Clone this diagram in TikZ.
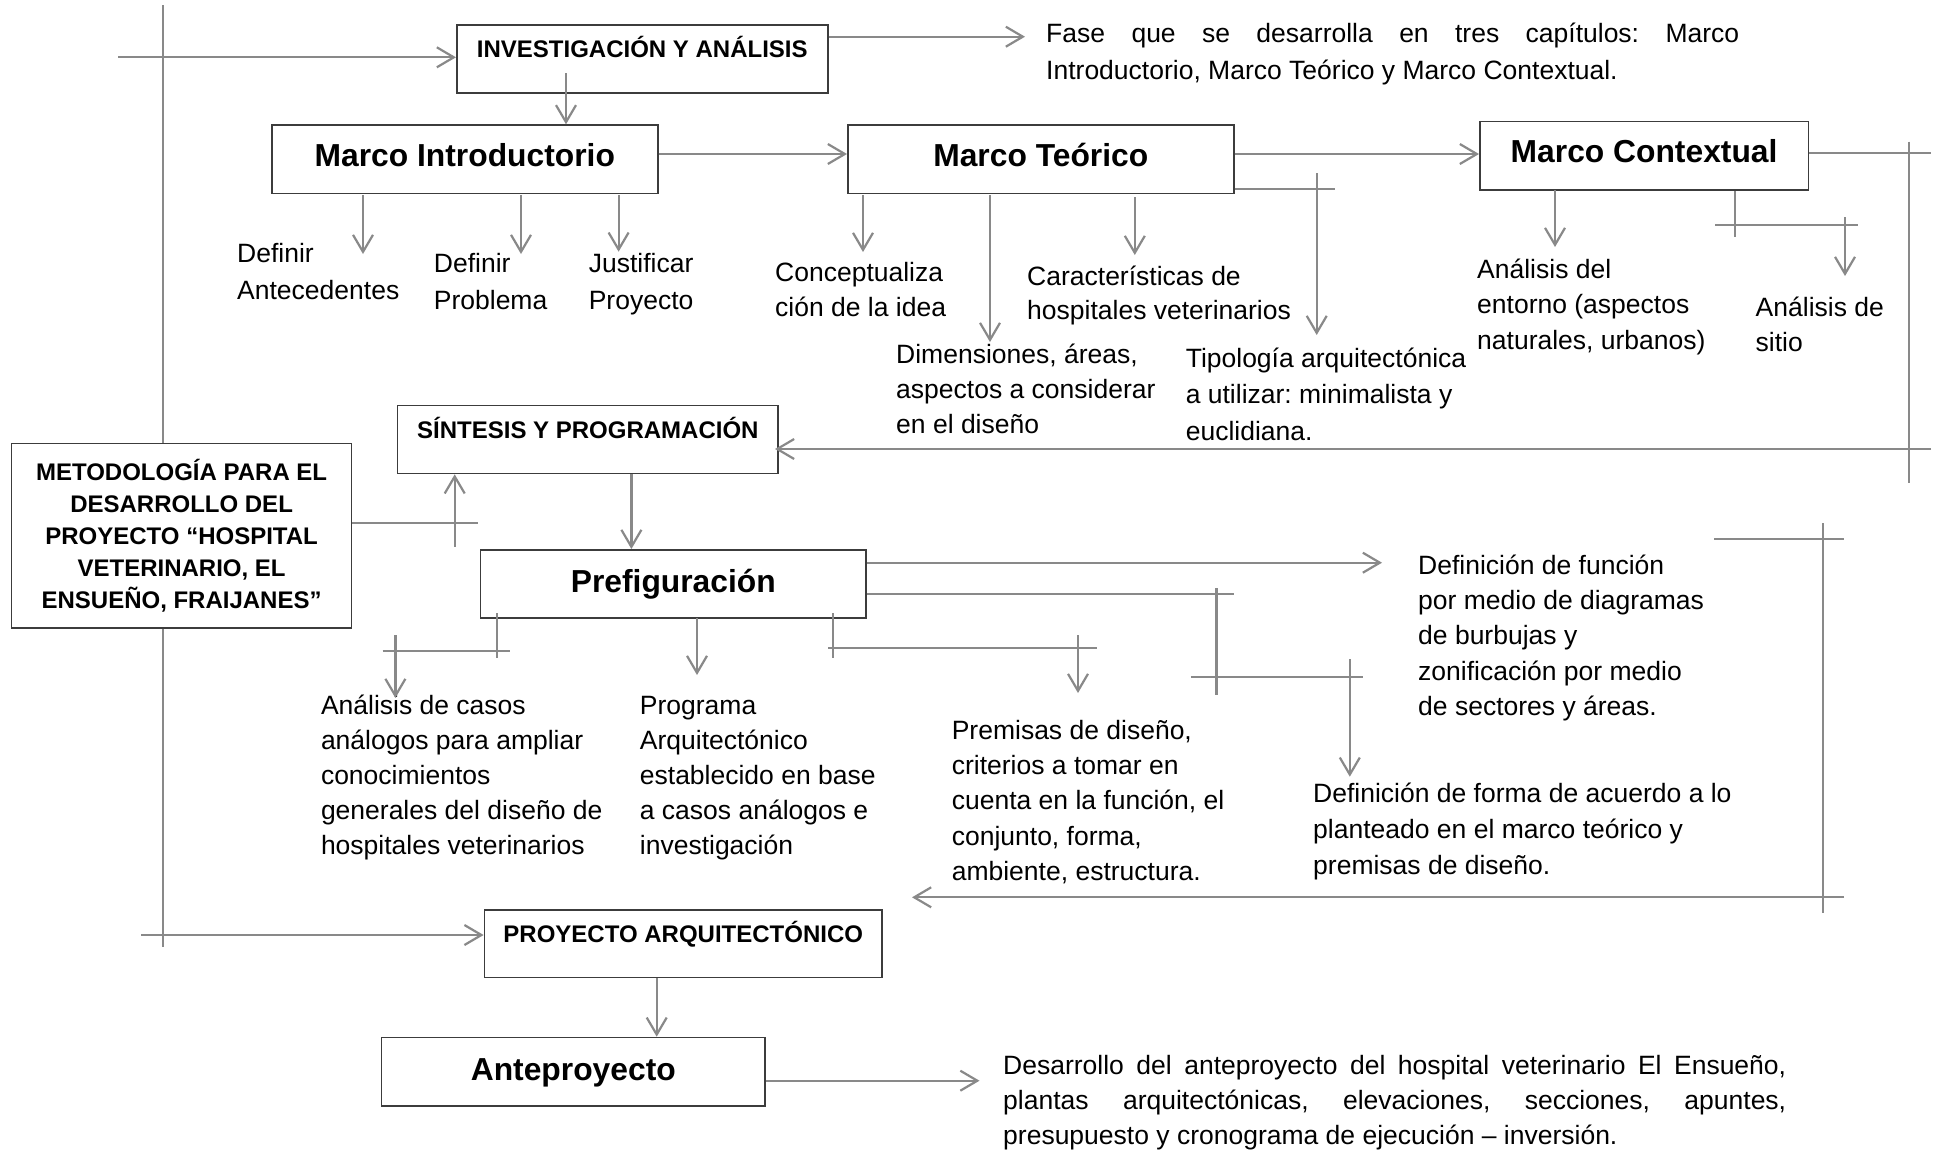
\documentclass[tikz,border=0pt]{standalone}
\usepackage{fontspec}
\setmainfont{Liberation Sans}
\usetikzlibrary{arrows.meta}
\definecolor{lc}{RGB}{137,137,137}
\definecolor{bc}{RGB}{60,60,60}
\newcommand{\bfs}[1]{\fontsize{26.5}{#1}\selectfont}
\frenchspacing
\tikzset{
  ln/.style={draw=lc, line width=2.2pt},
  arr/.style={ln, -{Straight Barb[length=17pt,width=20pt]}},
  txt/.style={anchor=north west, inner sep=0pt, align=left},
  boxbase/.style={draw=bc, line width=1.6pt, fill=white, inner sep=0pt, anchor=north west},
  capbox/.style={boxbase, font=\bfseries\fontsize{24}{28}\selectfont, text height=32.5pt, text depth=35.5pt},
  headbox/.style={boxbase, font=\bfseries\fontsize{31.8}{36}\selectfont, text height=41.5pt, text depth=27pt},
}
\begin{document}
\begin{tikzpicture}[x=1pt,y=-1pt]
\path[use as bounding box, fill=white] (0,0) rectangle (1934,1149);

% boxes
\node[capbox, minimum width=371pt] (inv) at (456,24.3) {INVESTIGACIÓN Y ANÁLISIS};
\node[headbox, minimum width=386pt] (mi) at (271,124.3) {Marco Introductorio};
\node[headbox, minimum width=386pt] (mt) at (847,124.3) {Marco Teórico};
\node[headbox, minimum width=328.6pt, text height=41pt, text depth=27.3pt] (mc) at (1479,120.7) {Marco Contextual};
\node[capbox, minimum width=380.7pt] (sin) at (396.7,404.7) {SÍNTESIS Y PROGRAMACIÓN};
\node[boxbase, minimum width=340pt, minimum height=184.6pt, align=center, font=\bfseries\fontsize{24}{32}\selectfont] (meto) at (10.8,442.7) {METODOLOGÍA PARA EL\\DESARROLLO DEL\\PROYECTO “HOSPITAL\\VETERINARIO, EL\\ENSUEÑO, FRAIJANES”};
\node[headbox, minimum width=385.8pt, text height=42.4pt, text depth=25.6pt] (pf) at (479.6,549) {Prefiguración};
\node[capbox, minimum width=397.7pt, text depth=35.2pt] (pa) at (483.6,909) {PROYECTO ARQUITECTÓNICO};
\node[headbox, minimum width=383.6pt, text height=43pt, text depth=25.3pt] (ap) at (380.7,1036.7) {Anteproyecto};

% texts
\node[txt, text width=693pt, align=justify, font={\bfs{36.7}\tolerance=10000 \hyphenpenalty=10000 }] (tfase) at (1046,16.6) {\strut Fase que se desarrolla en tres capítulos: Marco\linebreak Introductorio, Marco Teórico y Marco Contextual.};
\node[txt, font=\bfs{37}] (tdefant) at (237,235.9) {\strut Definir\\Antecedentes};
\node[txt, font=\bfs{37}] (tdefprob) at (433.7,246.1) {\strut Definir\\Problema};
\node[txt, font=\bfs{37}] (tjust) at (588.6,246.1) {\strut Justificar\\Proyecto};
\node[txt, font=\bfs{35}] (tcon) at (775,256.5) {\strut Conceptualiza\\ción de la idea};
\node[txt, font=\bfs{35.3}] (tdim) at (896,338.3) {\strut Dimensiones, áreas,\\aspectos a considerar\\en el diseño};
\node[txt, font=\bfs{34.5}] (tcar) at (1027,260.9) {\strut Características de\\hospitales veterinarios};
\node[txt, font=\bfs{36.5}] (ttipo) at (1185.6,341.5) {\strut Tipología arquitectónica\\a utilizar: minimalista y\\euclidiana.};
\node[txt, font=\bfs{35.5}] (tent) at (1477,253.2) {\strut Análisis del\\entorno (aspectos\\naturales, urbanos)};
\node[txt, font=\bfs{35}] (tsit) at (1755.5,291.5) {\strut Análisis de\\sitio};
\node[txt, font=\bfs{35}] (tcas) at (320.8,689.5) {\strut Análisis de casos\\análogos para ampliar\\conocimientos\\generales del diseño de\\hospitales veterinarios};
\node[txt, font=\bfs{35}] (tprog) at (639.7,689.5) {\strut Programa\\Arquitectónico\\establecido en base\\a casos análogos e\\investigación};
\node[txt, font=\bfs{35.4}] (tprem) at (951.6,714.2) {\strut Premisas de diseño,\\criterios a tomar en\\cuenta en la función, el\\conjunto, forma,\\ambiente, estructura.};
\node[txt, font=\bfs{35.4}] (tfunc) at (1418,549.2) {\strut Definición de función\\por medio de diagramas\\de burbujas y\\zonificación por medio\\de sectores y áreas.};
\node[txt, font=\bfs{35.8}] (tform) at (1313,777.2) {\strut Definición de forma de acuerdo a lo\\planteado en el marco teórico y\\premisas de diseño.};
\node[txt, text width=783pt, align=justify, font={\bfs{35.3}\tolerance=10000 \hyphenpenalty=10000 }] (tdesa) at (1003,1049.3) {\strut Desarrollo del anteproyecto del hospital veterinario El Ensueño,\linebreak plantas arquitectónicas, elevaciones, secciones, apuntes,\linebreak presupuesto y cronograma de ejecución – inversión.};

% connectors
\draw[ln] (162.6,5) -- (meto.north -| 162.6,0);
\draw[ln] (meto.south -| 162.6,0) -- (162.6,946.7);
\draw[arr] (118,57.3) -- (inv.west |- 0,57.3);
\draw[arr] (141,935) -- (pa.west |- 0,935);
\draw[arr] (inv.east |- 0,36.7) -- (1025,36.7);
\draw[arr] (566,73) -- (mi.north -| 566,0);
\draw[arr] (mi.east |- 0,154) -- (mt.west |- 0,154);
\draw[arr] (363,195) -- (363,254);
\draw[arr] (521,195) -- (521,254);
\draw[arr] (618.6,195) -- (618.6,251.7);
\draw[arr] (mt.east |- 0,154) -- (mc.west |- 0,154);
\draw[arr] (863,195) -- (863,252);
\draw[arr] (990,195) -- (990,342);
\draw[arr] (1134.8,197) -- (1134.8,255);
\draw[ln] (mt.east |- 0,189.3) -- (1335,189.3);
\draw[arr] (1316.7,173) -- (1316.7,335);
\draw[arr] (1555,190) -- (1555,247);
\draw[ln] (1735,191) -- (1735,237);
\draw[ln] (1715,225) -- (1858,225);
\draw[arr] (1845,217) -- (1845,276);
\draw[ln] (mc.east |- 0,152.7) -- (1931,152.7);
\draw[ln] (1909,141.7) -- (1909,483);
\draw[arr, shorten >=-4pt] (1931,449) -- (sin.east |- 0,449);
\draw[ln] (meto.east |- 0,522.7) -- (478,522.7);
\draw[arr] (454.7,546.7) -- (sin.south -| 454.7,0);
\draw[arr] (sin.south -| 631.4,0) -- (pf.north -| 631.4,0);
\draw[ln] (496.8,613) -- (496.8,658);
\draw[ln] (382.7,650.7) -- (510,650.7);
\draw[arr] (395.4,635) -- (395.4,698);
\draw[arr] (697,618) -- (697,675);
\draw[ln] (833,613) -- (833,658);
\draw[ln] (828,648.3) -- (1096.8,648.3);
\draw[arr] (1078,635) -- (1078,693);
\draw[arr] (pf.east |- 0,562.7) -- (1382,562.7);
\draw[ln] (pf.east |- 0,594.3) -- (1233.7,594.3);
\draw[ln] (1216.4,588) -- (1216.4,695);
\draw[ln] (1190.8,676.7) -- (1363,676.7);
\draw[arr] (1349.8,659) -- (1349.8,776.7);
\draw[ln] (1714,539.3) -- (1844,539.3);
\draw[ln] (1823,523) -- (1823,913);
\draw[arr] (1844,897.3) -- (912,897.3);
\draw[arr] (pa.south -| 656.7,0) -- (ap.north -| 656.7,0);
\draw[arr] (ap.east |- 0,1080.7) -- (979.5,1080.7);
\end{tikzpicture}
\end{document}
